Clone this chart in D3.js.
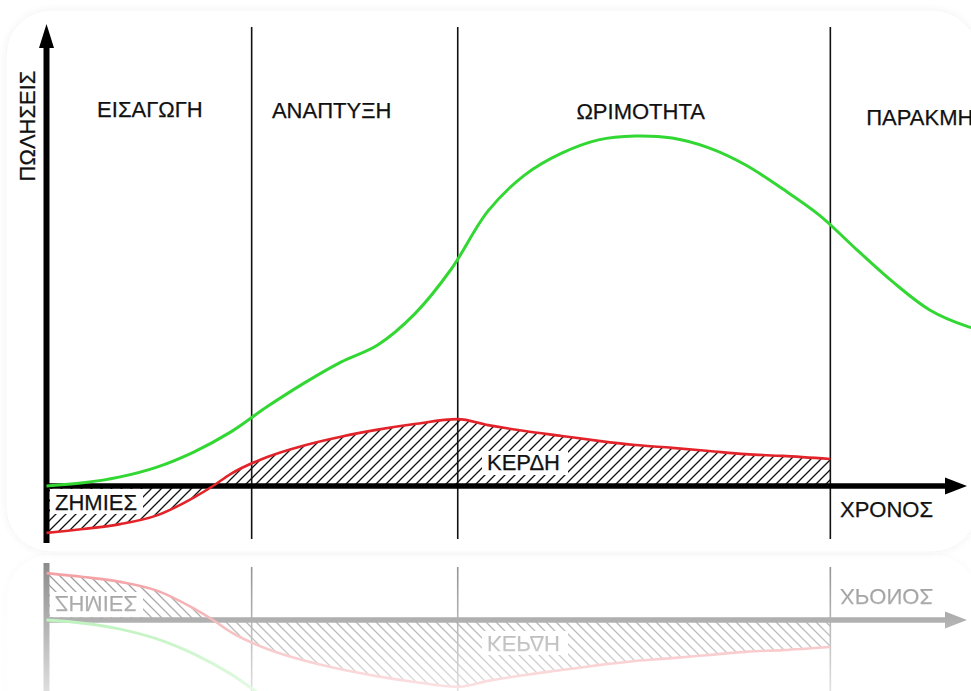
<!DOCTYPE html>
<html>
<head>
<meta charset="utf-8">
<script src="https://cdn.jsdelivr.net/npm/d3@7"></script>
<style>
  html, body { margin: 0; padding: 0; background: #ffffff; }
  svg { display: block; }
  text { font-family: "Liberation Sans", Arial, sans-serif; fill: #111; stroke: #111; stroke-width: 0.25px; }
</style>
</head>
<body>
<script>
// Product life cycle: sales and profit over time (arbitrary units)
const stageNames = ["ΕΙΣΑΓΩΓΗ", "ΑΝΑΠΤΥΞΗ", "ΩΡΙΜΟΤΗΤΑ", "ΠΑΡΑΚΜΗ"];
const stageBounds = [22.3, 44.7, 85.2];            // stage boundaries on the time axis
const salesTime   = [0, 4, 8, 12, 16, 20, 24, 28, 32, 36, 40, 44, 48, 52, 56, 60, 64, 68, 72, 76, 80, 84, 88, 92, 96, 100, 104];
const salesValue  = [0, 0.9, 2.6, 5.4, 9.7, 15.4, 22.7, 29.4, 35.4, 40.3, 49.1, 62.0, 78.6, 88.9, 95.1, 98.9, 100, 99.4, 96.6, 91.7, 84.9, 77.4, 67.7, 58.3, 50.3, 45.7, 43.2];
const profitTime  = [0, 4, 8, 12, 16, 18.1, 20, 24, 28, 32, 36, 40, 44.7, 48, 52, 56, 60, 64, 68, 72, 76, 80, 85.2];
const profitValue = [-13.4, -12.3, -10.9, -8.4, -3.3, 0, 3.4, 8.3, 11.6, 14.1, 16.1, 17.7, 19.1, 17.4, 15.7, 14.3, 12.9, 11.7, 10.9, 10.0, 9.1, 8.6, 7.7];
const axisTitles  = { y: "ΠΩΛΗΣΕΙΣ", x: "ΧΡΟΝΟΣ" };
const areaLabels  = { loss: "ΖΗΜΙΕΣ", profit: "ΚΕΡΔΗ" };

const W = 971, H = 691;
const x = d3.scaleLinear().domain([0, 100]).range([46.5, 966.5]);
const y = d3.scaleLinear().domain([0, 100]).range([486, 136]);

const sales  = salesTime.map((t, i) => ({ t, v: salesValue[i] }));
const profit = profitTime.map((t, i) => ({ t, v: profitValue[i] }));

const svg = d3.select("body").append("svg").attr("width", W).attr("height", H);
const defs = svg.append("defs");

// diagonal hatching for the profit / loss area
const pat = defs.append("pattern").attr("id", "hatch")
  .attr("patternUnits", "userSpaceOnUse").attr("width", 10).attr("height", 10);
pat.append("path").attr("d", "M-1,1 l2,-2 M0,10 l10,-10 M9,11 l2,-2")
  .attr("stroke", "#111").attr("stroke-width", 1.3);

// faint shadow around the card
const sh = defs.append("filter").attr("id", "cardShadow")
  .attr("x", "-5%").attr("y", "-5%").attr("width", "110%").attr("height", "110%");
sh.append("feGaussianBlur").attr("in", "SourceAlpha").attr("stdDeviation", 4).attr("result", "b");
sh.append("feComponentTransfer").attr("in", "b").attr("result", "s")
  .append("feFuncA").attr("type", "linear").attr("slope", 0.05);
const mg = sh.append("feMerge");
mg.append("feMergeNode").attr("in", "s");
mg.append("feMergeNode").attr("in", "SourceGraphic");

const blur = defs.append("filter").attr("id", "soft");
blur.append("feGaussianBlur").attr("stdDeviation", 0.7);

// fading mask for the mirrored copy
const grad = defs.append("linearGradient").attr("id", "fade")
  .attr("gradientUnits", "userSpaceOnUse").attr("x1", 0).attr("y1", 553).attr("x2", 0).attr("y2", 691);
grad.append("stop").attr("offset", 0).attr("stop-color", "#fff").attr("stop-opacity", 0.48);
grad.append("stop").attr("offset", 1).attr("stop-color", "#fff").attr("stop-opacity", 0.13);
defs.append("mask").attr("id", "fadeMask").attr("maskUnits", "userSpaceOnUse")
  .attr("x", 0).attr("y", 553).attr("width", W).attr("height", 140)
  .append("rect").attr("x", 0).attr("y", 553).attr("width", W).attr("height", 140).attr("fill", "url(#fade)");

const chart = defs.append("g").attr("id", "chart");

// card
chart.append("rect").attr("x", 6).attr("y", 10).attr("width", 972).attr("height", 542)
  .attr("rx", 45).attr("fill", "#fff").attr("stroke", "#f6f6f6").attr("stroke-width", 1)
  .attr("filter", "url(#cardShadow)");

// hatched area between profit curve and the time axis
chart.append("path").datum(profit)
  .attr("d", d3.area().x(d => x(d.t)).y0(y(0)).y1(d => y(d.v)).curve(d3.curveMonotoneX))
  .attr("fill", "url(#hatch)");

// label backgrounds inside the hatching
chart.append("rect").attr("x", 50).attr("y", 489).attr("width", 93).attr("height", 25).attr("fill", "#fff");
chart.append("rect").attr("x", 482).attr("y", 451).attr("width", 86).attr("height", 24).attr("fill", "#fff");

// stage boundaries
chart.selectAll("line.stage").data(stageBounds).join("line").attr("class", "stage")
  .attr("x1", d => x(d)).attr("x2", d => x(d)).attr("y1", 27).attr("y2", 539)
  .attr("stroke", "#111").attr("stroke-width", 1.6);

// axes with arrowheads
chart.append("line").attr("x1", x(0)).attr("x2", x(0)).attr("y1", 543).attr("y2", 44)
  .attr("stroke", "#000").attr("stroke-width", 6);
chart.append("path").attr("d", `M${x(0)},24 L${x(0) + 7.5},48 L${x(0) - 7.5},48 Z`).attr("fill", "#000");
chart.append("line").attr("x1", 44).attr("x2", 948).attr("y1", y(0)).attr("y2", y(0))
  .attr("stroke", "#000").attr("stroke-width", 5.5);
chart.append("path").attr("d", `M967,${y(0)} L945,${y(0) - 8.5} L945,${y(0) + 8.5} Z`).attr("fill", "#000");

// profit curve
chart.append("path").datum(profit)
  .attr("d", d3.line().x(d => x(d.t)).y(d => y(d.v)).curve(d3.curveMonotoneX))
  .attr("fill", "none").attr("stroke", "#e3232a").attr("stroke-width", 2.6);

// sales curve
chart.append("path").datum(sales)
  .attr("d", d3.line().x(d => x(d.t)).y(d => y(d.v)).curve(d3.curveCatmullRom.alpha(0.5)))
  .attr("fill", "none").attr("stroke", "#33d733").attr("stroke-width", 3);

// stage names
const stageLabelX = [5.5, 24.5, 57.6, 89.1];
const stageLabelY = [117, 118, 119, 125];
chart.selectAll("text.stage").data(stageNames).join("text").attr("class", "stage")
  .attr("x", (d, i) => x(stageLabelX[i])).attr("y", (d, i) => stageLabelY[i])
  .attr("font-size", 22).text(d => d);

// axis titles and area labels
chart.append("text").attr("transform", "translate(34.5,126) rotate(-90)")
  .attr("text-anchor", "middle").attr("font-size", 22).text(axisTitles.y);
chart.append("text").attr("x", 840).attr("y", 517).attr("font-size", 22).text(axisTitles.x);
chart.append("text").attr("x", 55).attr("y", 510).attr("font-size", 22).text(areaLabels.loss);
chart.append("text").attr("x", 487).attr("y", 470).attr("font-size", 22).text(areaLabels.profit);

// mirrored, fading copy under the card
svg.append("g").attr("mask", "url(#fadeMask)").attr("filter", "url(#soft)")
  .append("use").attr("href", "#chart")
  .attr("transform", "translate(0,1106) scale(1,-1)");

// the card itself
svg.append("use").attr("href", "#chart");
</script>
</body>
</html>
